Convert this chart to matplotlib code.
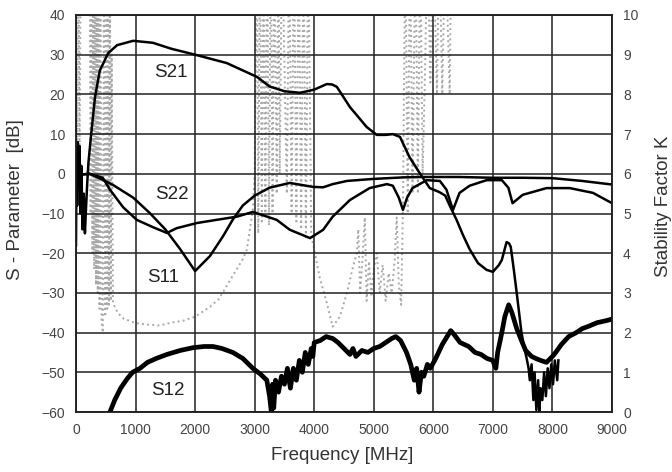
import numpy as np
import matplotlib.pyplot as plt

plt.rcParams['font.family'] = ['Liberation Sans', 'DejaVu Sans']

# S21 [dB]
s21_f = [0, 10, 20, 30, 45, 60, 75, 90, 110, 130, 150, 170, 190, 210, 250, 320, 400, 540, 690, 960,
         1290, 1600, 2000, 2530, 3040, 3250, 3500, 3760, 4000, 4210, 4300, 4380, 4600, 4880, 5050,
         5200, 5320, 5440, 5600, 5770, 5940, 6100, 6200, 6275, 6390, 6500, 6610, 6750, 6895, 7000,
         7100, 7150, 7230, 7270, 7300, 7350, 7400, 7480, 7530, 7560, 7600, 7620, 7650, 7680, 7700,
         7730, 7760, 7780, 7800, 7830, 7860, 7890, 7920, 7950, 7980, 8010, 8040, 8080, 8100]
s21_db = [-18, 5, -8, 8, -3, 7, -10, 2, -14, -5, -15, -8, -2, 3, 9.3, 19.4, 26, 30.4, 32.4, 33.5,
          33, 31.5, 30, 27.9, 24.4, 22, 20.8, 20.4, 21.2, 22.6, 22.5, 21.9, 16.8, 11.8, 9.8,
          9.8, 10, 9.3, 4.2, 0.2, -3.6, -4.6, -5.5, -8, -11.6, -15.5, -19, -22.5, -24.2, -24.7,
          -23, -21.7, -17.2, -17.5, -18.4, -24, -30, -40, -44, -46, -49, -52, -48, -57, -50,
          -59.5, -52, -60, -54, -57, -50, -56, -49, -54, -48, -53, -47, -52, -47]

# S11 [dB]
s11_f = [0, 230, 450, 620, 960, 1240, 1500, 1750, 2000, 2250, 2470, 2630, 2800, 3000, 3250,
         3590, 3980, 4150, 4310, 4550, 4980, 5500, 5820, 6430, 7000, 7500, 8000, 8500, 9000]
s11_db = [-0.3, 0, -1.5, -2.8, -6, -9.9, -14, -19, -24.5, -20.7, -15.7, -11.6, -8, -5.5, -3.5,
          -2.3, -3.3, -3.4, -2.6, -1.8, -1.3, -0.9, -0.8, -0.8, -1, -1, -1.1, -1.8, -2.7]

# S22 [dB]
s22_f = [0, 230, 450, 570, 790, 1020, 1300, 1527, 1690, 2030, 2360, 2700, 2970, 3370, 3590, 3930,
         4150, 4310, 4600, 4930, 5220, 5320, 5420, 5490, 5560, 5650, 5890, 6110, 6220, 6330, 6440,
         6610, 6895, 7150, 7260, 7330, 7500, 7900, 8290, 8680, 9000]
s22_db = [-0.3, 0, -1, -4, -8.4, -11.6, -13.5, -14.9, -13.7, -12.4, -11.6, -10.8, -9.6, -11.6,
          -14.1, -16.2, -14.1, -10.8, -6.6, -3.6, -2.6, -3, -6, -9.1, -6, -3.6, -1.6, -1.8, -4,
          -9.1, -4.8, -3, -1.6, -1.6, -3.5, -7.4, -5.3, -3.6, -3.6, -4.8, -7.4]

# S12 [dB]
s12_f = [570, 650, 750, 855, 950, 1074, 1200, 1350, 1527, 1750, 1963, 2150, 2300, 2450, 2634,
         2800, 2970, 3100, 3204, 3250, 3280, 3300, 3320, 3350, 3400, 3450, 3500, 3550, 3600, 3650,
         3700, 3750, 3800, 3850, 3900, 3950, 3977, 4000, 4100, 4200, 4312, 4400, 4500, 4600, 4650,
         4700, 4800, 4900, 5000, 5100, 5200, 5300, 5370, 5450, 5550, 5620, 5680, 5720, 5760, 5800,
         5840, 5900, 5950, 6040, 6150, 6292, 6350, 6450, 6594, 6700, 6800, 6900, 6997, 7050, 7080,
         7150, 7200, 7265, 7320, 7400, 7480, 7550, 7650, 7718, 7800, 7900, 8000, 8054, 8150, 8272,
         8400, 8500, 8608, 8750, 8900, 9000]
s12_db = [-60, -57, -54, -51.7, -50, -49, -47.5, -46.5, -45.5, -44.5, -43.8, -43.5, -43.5, -44,
          -45, -46.5, -49, -50.5, -52, -56, -60, -53, -59, -52, -55, -51, -53, -49, -54, -49,
          -52, -47, -50, -45, -48, -44, -46, -42.5, -42, -41, -41.5, -42.5, -44, -45.5, -44,
          -46, -44.5, -45, -44, -43.5, -42.5, -41.5, -41, -42, -45, -48, -52, -49, -55, -50,
          -51, -48, -49, -46.5, -43, -39.5, -40.5, -42.5, -43.5, -45, -45.5, -46.5, -47, -49, -45,
          -40, -36, -33, -35, -39, -42, -44.5, -46, -46.5, -47, -47.5, -46, -45, -43, -41,
          -40, -39, -38.4, -37.5, -37, -36.6]

# Stability factor K (values above 10 run off the chart)
k_f = [0, 20, 40, 60, 80, 230, 245, 260, 275, 290, 305, 320, 335, 350, 365, 380, 395, 410, 430,
       450, 470, 490, 510, 525, 540, 555, 570, 585, 600, 620,
       700, 800, 1000, 1200, 1400, 1600, 1800, 2000, 2100, 2250, 2400, 2500, 2600, 2700, 2800,
       2870, 2920, 2970, 3000, 3040, 3060, 3090, 3120, 3150, 3180, 3210, 3240, 3270, 3300, 3330,
       3370, 3400, 3420, 3460, 3540, 3580, 3620, 3660, 3700, 3740, 3780, 3820, 3860, 3900, 3950,
       3980, 4090, 4210, 4310, 4430, 4550, 4650, 4715, 4740, 4770, 4800, 4850, 4880, 4920, 4960,
       5000, 5050, 5100, 5150, 5200, 5250, 5300, 5350, 5385, 5420, 5460, 5490, 5530, 5570, 5610,
       5650, 5700, 5740, 5780, 5820, 5860, 5900, 5950, 6000, 6060, 6100, 6150, 6200, 6275, 6300]
k_val = [12, 6, 12, 6.2, 12, 12, 5, 12, 4, 12, 3.6, 12, 3.2, 12, 3, 12, 2.6, 12, 2.3,
         2.0, 12, 2.4, 12, 2.6, 12, 2.7, 12, 2.8, 9, 2.75,
         2.5, 2.35, 2.24, 2.2, 2.18, 2.25, 2.3, 2.4, 2.5, 2.65, 2.85, 3.1, 3.35, 3.6, 3.85,
         4.1, 4.6, 5.1, 6, 12, 4.5, 12, 4.8, 12, 5, 12, 4.7, 12, 5, 12,
         5.5, 12, 6, 12, 5.5, 12, 5, 12, 4.8, 12, 4.6, 12, 4.4, 12, 4.4,
         4.25, 3.4, 2.75, 2.15, 2.4, 3.0, 3.65, 4.0, 4.6, 3.0, 3.6, 4.9, 2.8, 3.8, 2.9,
         3.6, 4.0, 3.0, 3.7, 2.8, 3.5, 3.0, 3.8, 4.9, 3.2, 2.7, 5.2, 12, 5, 12,
         5.5, 12, 5.5, 12, 6, 8.5, 12, 8.3, 12, 8, 12, 8, 12, 8.0, 12]

labels = ['S21', 'S22', 'S11', 'S12']
label_f = [1594, 1610, 1460, 1545]
label_db = [25.6, -5.3, -26.2, -54.5]

fig = plt.figure(figsize=(6.72, 4.72), dpi=100)
ax = fig.add_axes([76/672, 1 - 412/472, 536/672, 397/472])
ax2 = ax.twinx()
ax.set_zorder(ax2.get_zorder() + 1)
ax.patch.set_visible(False)

ax2.plot(k_f, k_val, color='#a8a8a8', linestyle=':', linewidth=1.4)
ax2.set_ylim(0, 10)
ax2.set_yticks(range(0, 11))

ax.plot(s21_f, s21_db, color='black', linewidth=1.8)
ax.plot(s11_f, s11_db, color='black', linewidth=1.8)
ax.plot(s22_f, s22_db, color='black', linewidth=1.8)
ax.plot(s12_f, s12_db, color='black', linewidth=3.4)

for name, f, db in zip(labels, label_f, label_db):
    ax.text(f, db, name, fontsize=13.5, color='#222222', ha='center', va='center')

ax.set_xlim(0, 9000)
ax.set_ylim(-60, 40)
ax.set_xticks(range(0, 9001, 1000))
ax.set_yticks(range(-60, 41, 10))
ax.grid(True, color='#202020', linewidth=1.1)

for a in (ax, ax2):
    a.tick_params(length=0, labelsize=10, labelcolor='#444444', pad=8)
    for sp in a.spines.values():
        sp.set_color('#202020')
        sp.set_linewidth(1.1)

fig.text(16/672, 1 - 200/472, 'S - Parameter  [dB]', rotation=90, fontsize=13.5,
         color='#333333', ha='center', va='center')
fig.text(664/672, 1 - 206/472, 'Stability Factor K', rotation=90, fontsize=13.5,
         color='#333333', ha='center', va='center')
fig.text(342/672, 1 - 456/472, 'Frequency [MHz]', fontsize=13.5,
         color='#333333', ha='center', va='center')

fig.savefig('out.png', dpi=100)
